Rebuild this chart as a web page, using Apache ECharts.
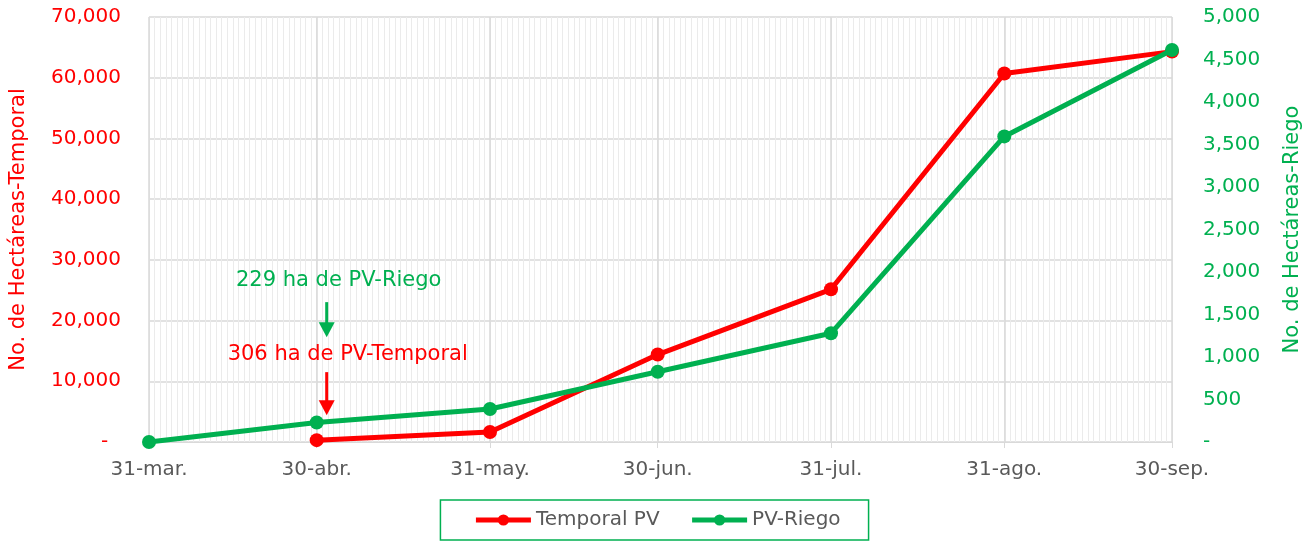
<!DOCTYPE html>
<html>
<head>
<meta charset="utf-8">
<script src="https://cdn.jsdelivr.net/npm/echarts@6/dist/echarts.min.js"></script>
<style>
  html, body { margin: 0; padding: 0; background: #fff; }
  #main { width: 1314px; height: 541px; }
</style>
</head>
<body>
<div id="main"></div>
<script>
// 数据
const fechas = ['2024-03-31', '2024-04-30', '2024-05-31', '2024-06-30', '2024-07-31', '2024-08-31', '2024-09-30'];
const etiquetas = ['31-mar.', '30-abr.', '31-may.', '30-jun.', '31-jul.', '31-ago.', '30-sep.'];
const temporal = [null, 306, 1650, 14400, 25150, 60700, 64300];
const riego = [0, 229, 388, 827, 1279, 3595, 4612];

const FONT = 'DejaVu Sans';
const ROJO = '#FF0000';
const VERDE = '#00B050';
const GRIS = '#595959';

// 日期 -> 距起点天数
const t0 = Date.parse(fechas[0]);
const dias = fechas.map(f => Math.round((Date.parse(f) - t0) / 86400000));
const totalDias = dias[dias.length - 1];

function fmtNum(v) {
    if (v === 0) return '-';
    return v.toLocaleString('en-US');
}

const chart = echarts.init(document.getElementById('main'));

const option = {
    animation: false,
    grid: { left: 148, right: 142, top: 17, bottom: 99 },
    legend: {
        bottom: 1,
        left: 'center',
        padding: [10, 28, 10, 33],
        borderColor: VERDE,
        borderWidth: 1.5,
        itemGap: 30,
        itemWidth: 55,
        itemHeight: 14,
        lineStyle: { width: 5 },
        textStyle: { fontFamily: FONT, fontSize: 20, color: GRIS },
        data: ['Temporal PV', 'PV-Riego']
    },
    xAxis: [
        // 每日细网格线
        {
            type: 'value',
            min: 0,
            max: totalDias,
            interval: 1,
            position: 'top',
            axisLine: { show: false },
            axisTick: { show: false },
            axisLabel: { show: false },
            splitLine: { show: true, lineStyle: { color: '#ebebeb', width: 1 } }
        },
        // 月末主刻度
        {
            type: 'value',
            min: 0,
            max: totalDias,
            position: 'bottom',
            axisLine: { show: true, lineStyle: { color: '#d9d9d9', width: 1 } },
            axisTick: { show: true, customValues: dias, length: 6, lineStyle: { color: '#d9d9d9' } },
            axisLabel: {
                customValues: dias,
                margin: 18,
                fontFamily: FONT,
                fontSize: 20,
                color: GRIS,
                formatter: function (v) {
                    return etiquetas[dias.indexOf(v)];
                }
            },
            splitLine: { show: true, lineStyle: { color: '#d9d9d9', width: 1.5 } }
        }
    ],
    yAxis: [
        {
            type: 'value',
            min: 0,
            max: 70000,
            interval: 10000,
            name: 'No. de Hectáreas-Temporal',
            nameLocation: 'middle',
            nameGap: 120,
            nameTextStyle: { fontFamily: FONT, fontSize: 21, color: ROJO },
            axisLine: { show: false },
            axisTick: { show: false },
            axisLabel: {
                margin: 28, fontFamily: FONT, fontSize: 20, color: ROJO,
                formatter: v => (v === 0 ? '-  ' : fmtNum(v))
            },
            splitLine: { show: true, lineStyle: { color: '#d9d9d9', width: 1.5 } }
        },
        {
            type: 'value',
            min: 0,
            max: 5000,
            interval: 500,
            name: 'No. de Hectáreas-Riego',
            nameLocation: 'middle',
            nameGap: 110,
            nameTextStyle: { fontFamily: FONT, fontSize: 21, color: VERDE },
            axisLine: { show: false },
            axisTick: { show: false },
            axisLabel: { margin: 31, fontFamily: FONT, fontSize: 20, color: VERDE, formatter: fmtNum },
            splitLine: { show: false }
        }
    ],
    series: [
        {
            name: 'Temporal PV',
            type: 'line',
            xAxisIndex: 1,
            yAxisIndex: 0,
            data: dias.map((d, i) => [d, temporal[i]]).filter(p => p[1] !== null),
            symbol: 'circle',
            symbolSize: 14,
            itemStyle: { color: ROJO },
            lineStyle: { color: ROJO, width: 5 },
            z: 3
        },
        {
            name: 'PV-Riego',
            type: 'line',
            xAxisIndex: 1,
            yAxisIndex: 1,
            data: dias.map((d, i) => [d, riego[i]]),
            symbol: 'circle',
            symbolSize: 14,
            itemStyle: { color: VERDE },
            lineStyle: { color: VERDE, width: 5 },
            z: 4
        }
    ]
};
chart.setOption(option);

// 注释箭头：以 30-abr 的 Temporal 点为锚
function flecha(x, y1, y2, color) {
    return [
        { type: 'line', shape: { x1: x, y1: y1, x2: x, y2: y2 - 12 }, style: { stroke: color, lineWidth: 3 }, z: 10 },
        { type: 'polygon', shape: { points: [[x - 8, y2 - 15], [x + 8, y2 - 15], [x, y2]] }, style: { fill: color }, z: 10 }
    ];
}

const p = chart.convertToPixel({ seriesIndex: 0 }, [dias[1], temporal[1]]);
const ax = p[0] + 10;
const graficos = []
    .concat(flecha(ax, p[1] - 68, p[1] - 25, ROJO))
    .concat(flecha(ax, p[1] - 138, p[1] - 103, VERDE))
    .concat([
        {
            type: 'text', x: p[0] + 31, y: p[1] - 86, z: 10,
            style: { text: '306 ha de PV-Temporal', fill: ROJO, font: '21px "' + FONT + '"', align: 'center', verticalAlign: 'middle' }
        },
        {
            type: 'text', x: p[0] + 22, y: p[1] - 160, z: 10,
            style: { text: '229 ha de PV-Riego', fill: VERDE, font: '21px "' + FONT + '"', align: 'center', verticalAlign: 'middle' }
        }
    ]);
chart.setOption({ graphic: graficos });
</script>
</body>
</html>
